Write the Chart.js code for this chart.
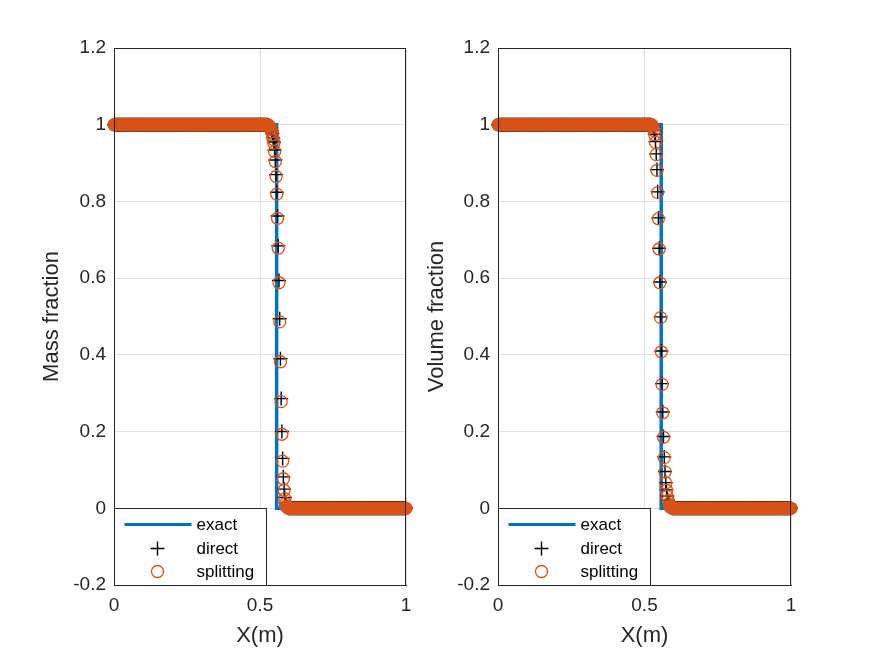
<!DOCTYPE html>
<html>
<head>
<meta charset="utf-8">
<script src="https://cdn.jsdelivr.net/npm/chart.js@4.4.0/dist/chart.umd.min.js"></script>
<style>
  html, body { margin: 0; padding: 0; background: #fff; }
  #wrap { position: relative; width: 875px; height: 657px; }
  #wrap canvas { position: absolute; left: 0; top: 0; }
</style>
</head>
<body>
<div id="wrap">
  <canvas id="massChart" width="875" height="657"></canvas>
  <canvas id="volChart" width="875" height="657"></canvas>
</div>
<script>
// cell centres, 400 cells on [0, 1]
var N = 400
var xCells = []
for (var i = 0; i <= N; i++) xCells.push(i / N)

// exact solution: step at the interface
var exactX = [0, 0.557, 0.557, 1]
var exactY = [1, 1, 0, 0]

// numerical fronts, left state is 1, right state is 0
var massStart = 211
var massDirect = [0.999, 0.998, 0.997, 0.994, 0.990, 0.984, 0.977, 0.966, 0.955, 0.934, 0.908, 0.870, 0.824, 0.762,
  0.684, 0.594, 0.494, 0.390, 0.286, 0.200, 0.130, 0.082, 0.050, 0.028, 0.014, 0.007, 0.003, 0.001]
var massSplitting = [0.999, 0.998, 0.996, 0.993, 0.988, 0.982, 0.974, 0.962, 0.952, 0.930, 0.904, 0.865, 0.819, 0.756,
  0.678, 0.588, 0.486, 0.382, 0.278, 0.193, 0.123, 0.077, 0.047, 0.025, 0.012, 0.006, 0.003, 0.001]

var volStart = 210
var volDirect = [0.999, 0.997, 0.994, 0.986, 0.975, 0.956, 0.924, 0.883, 0.825, 0.757, 0.678, 0.590, 0.499, 0.410,
  0.325, 0.251, 0.187, 0.134, 0.096, 0.067, 0.048, 0.032, 0.021, 0.012, 0.007, 0.004, 0.002, 0.001]
var volSplitting = [0.999, 0.997, 0.993, 0.985, 0.974, 0.954, 0.922, 0.881, 0.823, 0.755, 0.676, 0.588, 0.497, 0.408,
  0.323, 0.249, 0.185, 0.132, 0.095, 0.066, 0.047, 0.031, 0.020, 0.012, 0.007, 0.004, 0.002, 0.001]

var xTicks = [0, 0.5, 1]
var xTickLabels = ['0', '0.5', '1']
var yTicks = [-0.2, 0, 0.2, 0.4, 0.6, 0.8, 1, 1.2]
var yTickLabels = ['-0.2', '0', '0.2', '0.4', '0.6', '0.8', '1', '1.2']

var legendLabels = ['exact', 'direct', 'splitting']

var BLUE = '#0072BD'
var ORANGE = '#D95319'
var AXIS = '#262626'
var GRID = '#dfdfdf'
var FONT = "'Liberation Sans', Arial, Helvetica, sans-serif"

function profile(start, front) {
  return xCells.map(function (x, i) {
    if (i < start) return { x: x, y: 1 }
    if (i < start + front.length) return { x: x, y: front[i - start] }
    return { x: x, y: 0 }
  })
}

var boxPlugin = {
  id: 'axesBox',
  afterDatasetsDraw: function (chart) {
    var a = chart.chartArea
    var ctx = chart.ctx
    ctx.save()
    ctx.strokeStyle = AXIS
    ctx.lineWidth = 1
    ctx.strokeRect(Math.round(a.left) + 0.5, Math.round(a.top) + 0.5,
      Math.round(a.right - a.left) - 1, Math.round(a.bottom - a.top))
    ctx.restore()
  },
}

var legendPlugin = {
  id: 'boxLegend',
  afterDraw: function (chart) {
    var a = chart.chartArea
    var ctx = chart.ctx
    var w = 152, h = 77
    var left = Math.round(a.left) + 0.5
    var top = Math.round(a.bottom) - h + 0.5
    ctx.save()
    ctx.fillStyle = '#fff'
    ctx.fillRect(left, top, w, h)
    ctx.strokeStyle = AXIS
    ctx.lineWidth = 1
    ctx.strokeRect(left, top, w, h)

    var mx = left + 43
    var rows = [top + 16, top + 40, top + 63]
    // exact
    ctx.strokeStyle = BLUE
    ctx.lineWidth = 3
    ctx.beginPath()
    ctx.moveTo(left + 10, rows[0])
    ctx.lineTo(left + 77, rows[0])
    ctx.stroke()
    // direct
    ctx.strokeStyle = '#000'
    ctx.lineWidth = 1.4
    ctx.beginPath()
    ctx.moveTo(mx - 7, rows[1]); ctx.lineTo(mx + 7, rows[1])
    ctx.moveTo(mx, rows[1] - 7); ctx.lineTo(mx, rows[1] + 7)
    ctx.stroke()
    // splitting
    ctx.strokeStyle = ORANGE
    ctx.lineWidth = 1.3
    ctx.beginPath()
    ctx.arc(mx, rows[2], 6, 0, Math.PI * 2)
    ctx.stroke()

    ctx.fillStyle = '#000'
    ctx.font = '17px ' + FONT
    ctx.textBaseline = 'middle'
    ctx.textAlign = 'left'
    legendLabels.forEach(function (t, k) {
      ctx.fillText(t, left + 82, rows[k] + 1)
    })
    ctx.restore()
  },
}

function makeChart(id, cfg) {
  var ctx = document.getElementById(id).getContext('2d')
  return new Chart(ctx, {
    type: 'scatter',
    data: {
      datasets: [
        {
          label: legendLabels[2],
          data: profile(cfg.start, cfg.splitting),
          pointStyle: 'circle',
          pointRadius: 6,
          borderColor: ORANGE,
          backgroundColor: 'rgba(0,0,0,0)',
          pointBorderWidth: 1.3,
          showLine: false,
          clip: false,
          order: 0,
        },
        {
          label: legendLabels[1],
          data: profile(cfg.start, cfg.direct),
          pointStyle: 'cross',
          pointRadius: 7,
          borderColor: '#000',
          pointBorderWidth: 1.4,
          showLine: false,
          clip: false,
          order: 1,
        },
        {
          label: legendLabels[0],
          data: exactX.map(function (x, k) { return { x: x, y: exactY[k] } }),
          showLine: true,
          borderColor: BLUE,
          borderWidth: 3.5,
          pointRadius: 0,
          tension: 0,
          clip: false,
          order: 2,
        },
      ],
    },
    options: {
      responsive: false,
      animation: false,
      events: [],
      layout: {
        autoPadding: false,
        padding: { left: cfg.padLeft, right: 875 - cfg.right, top: 48, bottom: 4 },
      },
      plugins: {
        legend: { display: false },
        tooltip: { enabled: false },
      },
      scales: {
        x: {
          type: 'linear',
          min: 0,
          max: 1,
          afterFit: function (s) { s.height = 657 - 585 - 4 },
          afterBuildTicks: function (s) { s.ticks = xTicks.map(function (v) { return { value: v } }) },
          grid: { color: GRID, drawTicks: false },
          border: { color: AXIS },
          ticks: {
            padding: 9,
            color: AXIS,
            font: { family: FONT, size: 19 },
            callback: function (v, k) { return xTickLabels[k] },
          },
          title: {
            display: true,
            text: 'X(m)',
            color: AXIS,
            font: { family: FONT, size: 22 },
            padding: { top: 0, bottom: 4 },
          },
        },
        y: {
          type: 'linear',
          min: -0.2,
          max: 1.2,
          afterFit: function (s) { s.width = cfg.left - cfg.padLeft },
          afterBuildTicks: function (s) { s.ticks = yTicks.map(function (v) { return { value: v } }) },
          grid: { color: GRID, drawTicks: false },
          border: { color: AXIS },
          ticks: {
            padding: 8,
            color: AXIS,
            font: { family: FONT, size: 19 },
            callback: function (v, k) { return yTickLabels[k] },
          },
          title: {
            display: true,
            text: cfg.yTitle,
            color: AXIS,
            font: { family: FONT, size: 22 },
            padding: { top: 9, bottom: 0 },
          },
        },
      },
    },
    plugins: [boxPlugin, legendPlugin],
  })
}

makeChart('massChart', {
  left: 114, right: 406, padLeft: 30, yTitle: 'Mass fraction',
  start: massStart, direct: massDirect, splitting: massSplitting,
})
makeChart('volChart', {
  left: 498, right: 791, padLeft: 415, yTitle: 'Volume fraction',
  start: volStart, direct: volDirect, splitting: volSplitting,
})
</script>
</body>
</html>
